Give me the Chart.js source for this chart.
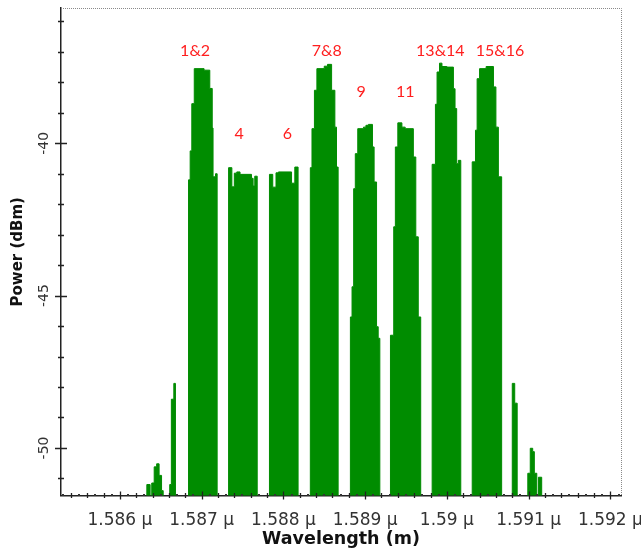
<!DOCTYPE html>
<html>
<head>
<meta charset="utf-8">
<script src="https://cdn.jsdelivr.net/npm/chart.js@4.4.0/dist/chart.umd.min.js"></script>
<style>
  html, body { margin: 0; padding: 0; background: #fff; }
  #wrap { width: 641px; height: 550px; position: relative; }
</style>
</head>
<body>
<div id="wrap"><canvas id="spectrum"></canvas></div>
<script>
// Spectrum: wavelength in µm, power in dBm.
// Each power level holds until the next wavelength (stepped line).
const FLOOR = -60; // no signal, below the visible range

const wavelength = [
    1.58528,
    1.58633, 1.58637, 1.58639, 1.58642, 1.58645, 1.58648, 1.58651, 1.58653,
    1.58661, 1.58663, 1.58666, 1.58668,
    1.58684, 1.58686, 1.58688, 1.58691, 1.58703, 1.58710, 1.58713, 1.58714, 1.58717, 1.58719,
    1.58733, 1.58737, 1.58740, 1.58743, 1.58747, 1.58761, 1.58763, 1.58765, 1.58768,
    1.58783, 1.58787, 1.58791, 1.58794, 1.58810, 1.58814, 1.58818,
    1.58833, 1.58835, 1.58838, 1.58841, 1.58850, 1.58854, 1.58859, 1.58863, 1.58865, 1.58867,
    1.58882, 1.58884, 1.58886, 1.58888, 1.58891, 1.58898, 1.58901, 1.58904, 1.58909, 1.58911, 1.58914, 1.58916, 1.58918,
    1.58931, 1.58935, 1.58937, 1.58940, 1.58945, 1.58949, 1.58959, 1.58962, 1.58965, 1.58968,
    1.58982, 1.58986, 1.58988, 1.58991, 1.58994, 1.59000, 1.59008, 1.59010, 1.59012, 1.59014, 1.59017,
    1.59031, 1.59035, 1.59037, 1.59040, 1.59048, 1.59057, 1.59060, 1.59063, 1.59067,
    1.59080, 1.59083, 1.59086,
    1.59099, 1.59102, 1.59105, 1.59107, 1.59110, 1.59112, 1.59116,
    1.59213
];

const power = [
    FLOOR,
    -51.2, FLOOR, -51.15, -50.62, -50.52, -50.9, -51.4, FLOOR,
    -51.2, -48.4, -47.88, FLOOR,
    -41.2, -40.25, -38.7, -37.55, -37.6, -38.2, -39.5, -41.1, -41.0, FLOOR,
    -40.8, -41.43, -40.98, -40.94, -41.02, -41.15, -41.4, -41.08, FLOOR,
    -41.02, -41.44, -40.97, -40.94, -41.31, -40.78, FLOOR,
    -40.8, -39.52, -38.26, -37.55, -37.47, -37.41, -38.26, -39.47, -40.78, FLOOR,
    -45.7, -44.71, -41.49, -40.34, -39.52, -39.47, -39.41, -39.38, -40.12, -41.27, -46.02, -46.4, FLOOR,
    -46.3, -42.74, -40.12, -39.33, -39.47, -39.52, -40.45, -43.07, -45.7, FLOOR,
    -40.69, -38.72, -37.66, -37.37, -37.48, -37.5, -38.21, -38.86, -40.67, -40.56, FLOOR,
    -40.61, -39.57, -37.88, -37.55, -37.48, -38.15, -39.47, -41.1, FLOOR,
    -47.88, -48.53, FLOOR,
    -50.83, -50.01, -50.12, -50.83, FLOOR, -50.96, FLOOR,
    FLOOR
];

// channel annotations
const channelNames = ['1&2', '4', '6', '7&8', '9', '11', '13&14', '15&16'];
const channelLabelX = [1.58692, 1.58746, 1.58805, 1.58853, 1.58895, 1.58949, 1.58992, 1.59065];
const channelLabelY = [-36.95, -39.7, -39.7, -36.95, -38.32, -38.32, -36.95, -36.95];

// axes
const xTicks = [1.586, 1.587, 1.588, 1.589, 1.59, 1.591, 1.592];
const yTicks = [-50, -45, -40];

const decorations = {
    id: 'decorations',
    afterDraw(chart) {
        const { ctx, chartArea: a, scales: { x, y } } = chart;
        ctx.save();

        // dotted frame on top and right
        ctx.strokeStyle = '#8a8a8a';
        ctx.lineWidth = 1;
        ctx.setLineDash([1, 1]);
        ctx.beginPath();
        ctx.moveTo(a.left, a.top + 0.5);
        ctx.lineTo(a.right + 0.5, a.top + 0.5);
        ctx.lineTo(a.right + 0.5, a.bottom);
        ctx.stroke();
        ctx.setLineDash([]);

        // tick marks crossing the axes
        ctx.strokeStyle = '#222';
        ctx.lineWidth = 1.3;
        ctx.beginPath();
        for (let v = -51; v <= -36; v++) {
            const py = Math.round(y.getPixelForValue(v)) + 0.5;
            const len = v % 5 === 0 ? 6 : 3;
            ctx.moveTo(a.left - len, py);
            ctx.lineTo(a.left + len, py);
        }
        for (let k = 15854; k <= 15921; k += 2) {
            const px = Math.round(x.getPixelForValue(k / 10000)) + 0.5;
            const len = k % 10 === 0 ? 4 : 2.5;
            ctx.moveTo(px, a.bottom - len);
            ctx.lineTo(px, a.bottom + len);
        }
        ctx.stroke();

        // small dots between the minor ticks
        ctx.fillStyle = '#333';
        for (let k = 15853; k <= 15921; k += 2) {
            const px = Math.round(x.getPixelForValue(k / 10000));
            ctx.fillRect(px - 1, a.bottom - 1.5, 2, 2);
        }

        // y tick labels, rotated
        ctx.fillStyle = '#333';
        ctx.font = '14px "DejaVu Sans"';
        ctx.textAlign = 'center';
        ctx.textBaseline = 'middle';
        yTicks.forEach(v => {
            ctx.save();
            ctx.translate(a.left - 17, y.getPixelForValue(v));
            ctx.rotate(-Math.PI / 2);
            ctx.fillText(String(v), 0, 0);
            ctx.restore();
        });

        // channel labels
        ctx.fillStyle = '#ff1e1e';
        ctx.font = '16px Lato';
        channelNames.forEach((name, i) => {
            ctx.fillText(name, x.getPixelForValue(channelLabelX[i]), y.getPixelForValue(channelLabelY[i]));
        });

        ctx.restore();
    }
};

document.addEventListener('DOMContentLoaded', () => {
    const ctx = document.getElementById('spectrum').getContext('2d');

    new Chart(ctx, {
        type: 'line',
        data: {
            datasets: [{
                label: 'Power',
                data: wavelength.map((w, i) => ({ x: w, y: power[i] })),
                stepped: true,
                fill: 'shape',
                backgroundColor: '#008c00',
                borderColor: '#008c00',
                borderWidth: 1,
                pointRadius: 0
            }]
        },
        options: {
            responsive: true,
            maintainAspectRatio: false,
            animation: false,
            layout: {
                padding: { top: 8, right: 20, bottom: 0, left: 0 }
            },
            plugins: {
                legend: { display: false },
                tooltip: { enabled: false }
            },
            scales: {
                x: {
                    type: 'linear',
                    min: 1.58528,
                    max: 1.59213,
                    afterBuildTicks: s => { s.ticks = xTicks.map(v => ({ value: v })); },
                    afterFit: s => {
                        s.height = 54.5;
                        s.paddingLeft = 0;
                        s.paddingRight = 0;
                    },
                    grid: { display: false },
                    border: { display: true, color: '#222', width: 1.5 },
                    ticks: {
                        callback: v => v + ' µ',
                        font: { family: 'DejaVu Sans', size: 17 },
                        color: '#333',
                        padding: 7,
                        maxRotation: 0,
                        autoSkip: false
                    },
                    title: {
                        display: true,
                        text: 'Wavelength (m)',
                        font: { family: 'DejaVu Sans', size: 17.5, weight: 'bold' },
                        color: '#111',
                        padding: { top: 0, bottom: 0 }
                    }
                },
                y: {
                    min: -51.56,
                    max: -35.56,
                    afterBuildTicks: s => { s.ticks = yTicks.map(v => ({ value: v })); },
                    afterFit: s => { s.width = 61; },
                    grid: { display: false },
                    border: { display: true, color: '#222', width: 1.5 },
                    ticks: { display: false },
                    title: {
                        display: true,
                        text: 'Power (dBm)',
                        font: { family: 'DejaVu Sans', size: 15, weight: 'bold' },
                        color: '#111',
                        padding: { top: 9, bottom: 0 }
                    }
                }
            }
        },
        plugins: [decorations]
    });
});
</script>
</body>
</html>
